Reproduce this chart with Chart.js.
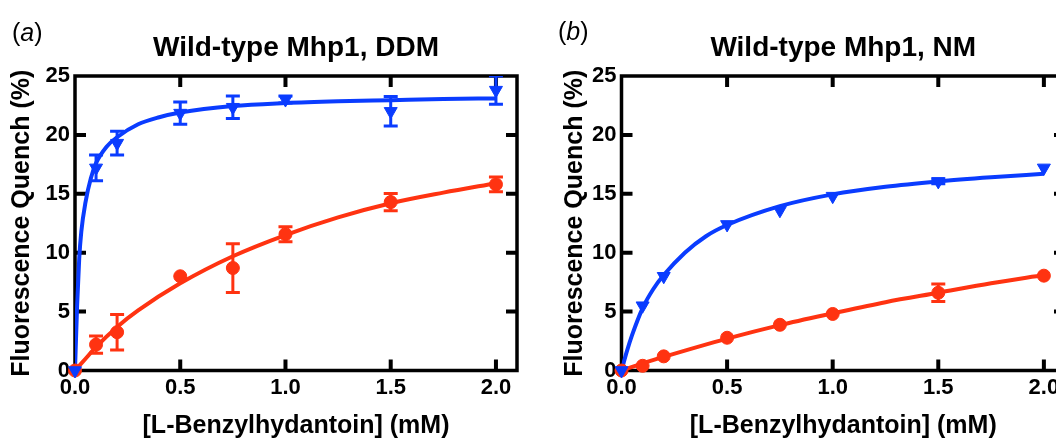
<!DOCTYPE html>
<html>
<head>
<meta charset="utf-8">
<script src="https://cdn.jsdelivr.net/npm/chart.js@4.4.1/dist/chart.umd.min.js"></script>
<style>
  html, body { margin: 0; padding: 0; background: #fff; }
  body { width: 1056px; height: 439px; overflow: hidden; position: relative; font-family: "Liberation Sans", Arial, sans-serif; }
  canvas { position: absolute; top: 0; }
  .tag { position: absolute; font-size: 25px; line-height: 25px; color: #000; }
</style>
</head>
<body>
<canvas id="ddm" width="530" height="439" style="left:0"></canvas>
<canvas id="nm" width="560" height="439" style="left:531px"></canvas>
<div class="tag" style="left:12px;top:20px">(<i>a</i>)</div>
<div class="tag" style="left:558px;top:19px">(<i>b</i>)</div>
<script>
// substrate concentrations (mM)
const conc = [0, 0.1, 0.2, 0.5, 0.75, 1.0, 1.5, 2.0];

// DDM: measured points (mean, SD)
const ddmTri = [0, 17.2, 19.3, 21.85, 22.35, 23.0, 22.0, 23.8];
const ddmTriErr = [0, 1.1, 1.0, 0.95, 0.95, 0.3, 1.25, 1.2];
const ddmDot = [0, 2.2, 3.25, 8.0, 8.7, 11.57, 14.3, 15.8];
const ddmDotErr = [0, 0.73, 1.5, 0, 2.07, 0.63, 0.73, 0.62];

// DDM: fitted binding curves
const ddmTriFitX = [0, 0.01, 0.02, 0.03, 0.05, 0.075, 0.1, 0.15, 0.2, 0.3, 0.4, 0.5, 0.75, 1.0, 1.25, 1.5, 1.75, 2.0];
const ddmTriFitY = [0, 5.5, 9.5, 11.8, 14.3, 16.3, 17.6, 19.0, 19.8, 20.9, 21.5, 21.9, 22.45, 22.7, 22.85, 22.95, 23.05, 23.1];
const ddmDotFitX = [0, 0.05, 0.1, 0.2, 0.3, 0.5, 0.75, 1.0, 1.25, 1.5, 1.75, 2.0];
const ddmDotFitY = [0, 1.0, 2.0, 3.7, 5.1, 7.4, 9.7, 11.5, 13.0, 14.2, 15.1, 15.9];

// NM: measured points (mean, SD; most bars hide under the symbols)
const nmTri = [0, 5.5, 8.0, 12.4, 13.6, 14.8, 16.05, 17.2];
const nmTriErr = [0, 0, 0, 0, 0, 0, 0.2, 0];
const nmDot = [0, 0.4, 1.2, 2.78, 3.88, 4.8, 6.6, 8.05];
const nmDotErr = [0, 0, 0, 0, 0, 0, 0.75, 0];

// NM: fitted binding curves
const nmTriFitX = [0, 0.025, 0.05, 0.1, 0.15, 0.2, 0.3, 0.4, 0.5, 0.75, 1.0, 1.25, 1.5, 1.75, 2.0];
const nmTriFitY = [0, 1.6, 3.0, 5.3, 6.9, 8.1, 10.0, 11.4, 12.35, 13.95, 14.95, 15.6, 16.05, 16.4, 16.7];
const nmDotFitX = [0, 0.1, 0.2, 0.5, 0.75, 1.0, 1.25, 1.5, 1.75, 2.0];
const nmDotFitY = [0, 0.6, 1.15, 2.7, 3.85, 4.85, 5.8, 6.6, 7.4, 8.1];

const xTicks = [0, 0.5, 1.0, 1.5, 2.0];
const yTicks = [0, 5, 10, 15, 20, 25];

const INK = '#000';
const BLUE = '#0a3cff';
const RED = '#ff3311';
Chart.defaults.font.family = "'Liberation Sans', Arial, sans-serif";

const pts = (xs, ys) => xs.map((x, i) => ({ x, y: ys[i] }));

// vertical SD bars with caps, drawn just under each marker set
const errorBars = {
  id: 'errorBars',
  beforeDatasetDraw(chart, args) {
    const ds = chart.data.datasets[args.index];
    if (!ds.errors) return;
    const { ctx, chartArea: a, scales: { x, y } } = chart;
    ctx.save();
    ctx.beginPath();
    ctx.rect(a.left - 20, a.top, a.right - a.left + 40, a.bottom - a.top + 20);
    ctx.clip();
    ctx.strokeStyle = ds.borderColor;
    ctx.lineWidth = 3;
    ctx.beginPath();
    ds.data.forEach((p, i) => {
      const e = ds.errors[i];
      if (!e) return;
      const px = x.getPixelForValue(p.x);
      const hi = y.getPixelForValue(p.y + e);
      const lo = y.getPixelForValue(p.y - e);
      ctx.moveTo(px, hi); ctx.lineTo(px, lo);
      ctx.moveTo(px - 7, hi); ctx.lineTo(px + 7, hi);
      ctx.moveTo(px - 7, lo); ctx.lineTo(px + 7, lo);
    });
    ctx.stroke();
    ctx.restore();
  }
};

// boxed frame with inward ticks on all four sides
const frame = {
  id: 'frame',
  beforeDatasetsDraw(chart) {
    const { ctx, chartArea: a, scales: { x, y } } = chart;
    const len = 11;
    ctx.save();
    ctx.strokeStyle = INK;
    ctx.lineWidth = 3.5;
    ctx.lineJoin = 'miter';
    ctx.strokeRect(a.left, a.top, a.right - a.left, a.bottom - a.top);
    ctx.lineWidth = 4;
    ctx.beginPath();
    x.ticks.forEach(t => {
      if (t.value <= x.min) return;
      const px = x.getPixelForValue(t.value);
      ctx.moveTo(px, a.bottom); ctx.lineTo(px, a.bottom - len);
      ctx.moveTo(px, a.top); ctx.lineTo(px, a.top + len);
    });
    y.ticks.forEach(t => {
      if (t.value <= y.min || t.value >= y.max) return;
      const py = y.getPixelForValue(t.value);
      ctx.moveTo(a.left, py); ctx.lineTo(a.left + len, py);
      ctx.moveTo(a.right, py); ctx.lineTo(a.right - len, py);
    });
    ctx.stroke();
    ctx.restore();
  }
};

function panel(id, title, s, box) {
  return new Chart(document.getElementById(id), {
    type: 'scatter',
    data: {
      datasets: [
        {
          data: pts(conc, s.tri), errors: s.triErr,
          borderColor: BLUE, backgroundColor: BLUE,
          pointStyle: 'triangle', rotation: 180, pointRadius: 7.5, pointBorderWidth: 1,
          showLine: false, clip: false
        },
        {
          data: pts(conc, s.dot), errors: s.dotErr,
          borderColor: RED, backgroundColor: RED,
          pointStyle: 'circle', pointRadius: 6.5, pointBorderWidth: 1,
          showLine: false, clip: false
        },
        {
          data: pts(s.triFitX, s.triFitY),
          borderColor: BLUE, borderWidth: 4, pointRadius: 0,
          showLine: true, cubicInterpolationMode: 'monotone'
        },
        {
          data: pts(s.dotFitX, s.dotFitY),
          borderColor: RED, borderWidth: 4, pointRadius: 0,
          showLine: true, cubicInterpolationMode: 'monotone'
        }
      ]
    },
    options: {
      responsive: false,
      animation: false,
      events: [],
      layout: { padding: { left: box.padLeft, right: box.padRight, top: 0, bottom: 0 } },
      plugins: {
        legend: { display: false },
        tooltip: { enabled: false },
        title: {
          display: true, text: title, fullSize: false, color: INK,
          font: { size: 28, weight: 'bold', lineHeight: 1 },
          padding: { top: 34.5, bottom: 13.5 }
        }
      },
      scales: {
        x: {
          type: 'linear', min: 0, max: 2.1, bounds: 'data',
          afterFit: sc => { sc.height = 68.5; },
          afterBuildTicks: sc => { sc.ticks = xTicks.map(v => ({ value: v })); },
          border: { display: false },
          grid: { display: false, drawTicks: false },
          ticks: {
            padding: 4, color: INK, maxRotation: 0,
            font: { size: 22, weight: 'bold' },
            callback: v => v.toFixed(1)
          },
          title: {
            display: true, text: '[L-Benzylhydantoin] (mM)', color: INK,
            font: { size: 25, weight: 'bold', lineHeight: 1 }, padding: 0
          }
        },
        y: {
          min: 0, max: 25,
          afterFit: sc => { sc.width = box.yWidth; },
          afterBuildTicks: sc => { sc.ticks = yTicks.map(v => ({ value: v })); },
          border: { display: false },
          grid: { display: false, drawTicks: false },
          ticks: { padding: 5, color: INK, font: { size: 22, weight: 'bold' } },
          title: {
            display: true, text: 'Fluorescence Quench (%)', color: INK,
            font: { size: 25, weight: 'bold', lineHeight: 1 }, padding: 0
          }
        }
      }
    },
    plugins: [frame, errorBars]
  });
}

panel('ddm', 'Wild-type Mhp1, DDM', {
  tri: ddmTri, triErr: ddmTriErr, dot: ddmDot, dotErr: ddmDotErr,
  triFitX: ddmTriFitX, triFitY: ddmTriFitY, dotFitX: ddmDotFitX, dotFitY: ddmDotFitY
}, { padLeft: 10, yWidth: 65, padRight: 13 });

panel('nm', 'Wild-type Mhp1, NM', {
  tri: nmTri, triErr: nmTriErr, dot: nmDot, dotErr: nmDotErr,
  triFitX: nmTriFitX, triFitY: nmTriFitY, dotFitX: nmDotFitX, dotFitY: nmDotFitY
}, { padLeft: 31.5, yWidth: 59, padRight: 26 });
</script>
</body>
</html>
